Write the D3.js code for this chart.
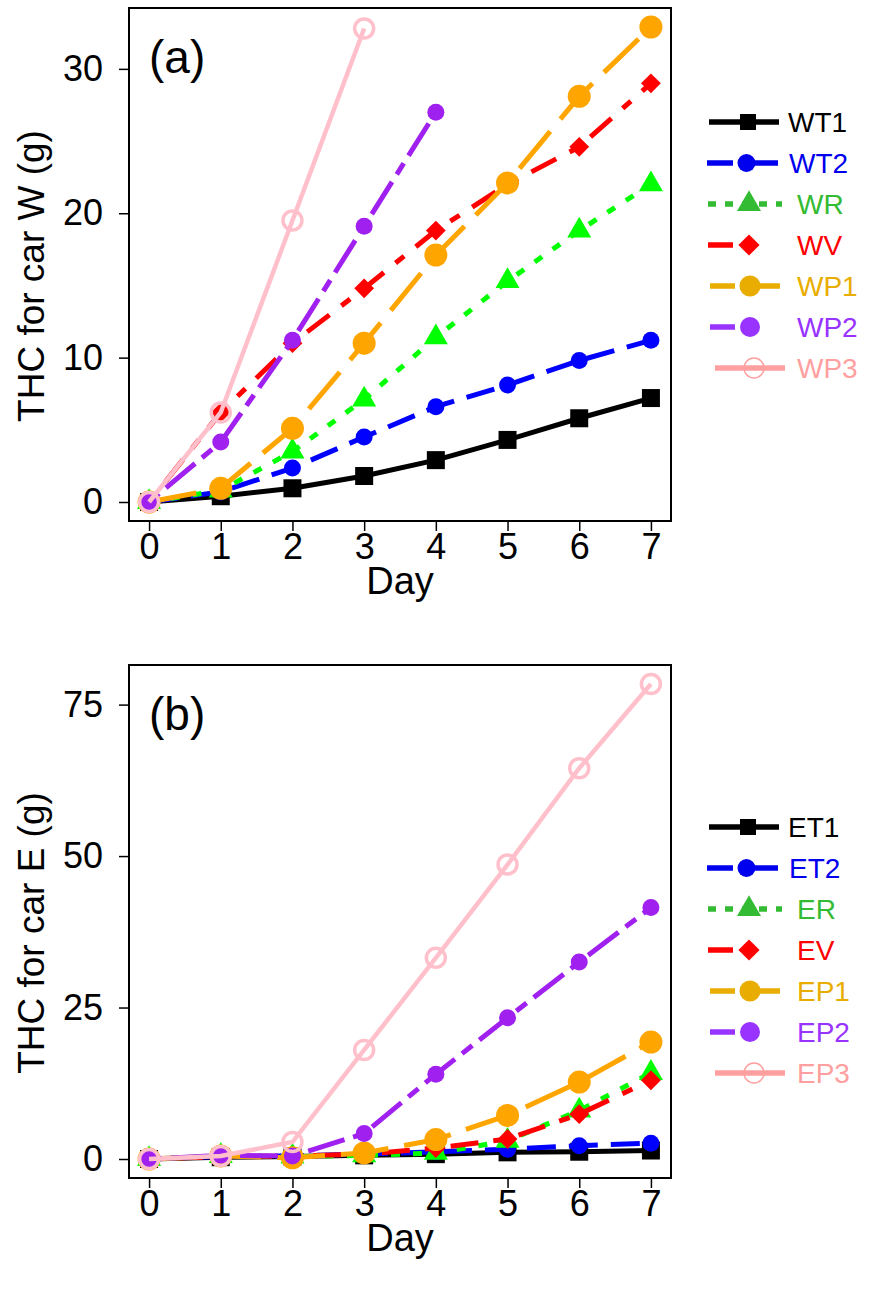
<!DOCTYPE html>
<html>
<head>
<meta charset="utf-8">
<script src="https://cdn.jsdelivr.net/npm/d3@7"></script>
<style>
body { margin: 0; background: #fff; }
svg { font-family: "Liberation Sans", Arial, Helvetica, sans-serif; }
</style>
</head>
<body>
<svg id="chart" width="869" height="1289"></svg>
<script>
// ---- data ----
var days = [0, 1, 2, 3, 4, 5, 6, 7];

// car W, THC (g)
var namesW = ["WT1", "WT2", "WR", "WV", "WP1", "WP2", "WP3"];
var WT1 = [0, 0.4, 0.95, 1.8, 2.9, 4.3, 5.8, 7.2];
var WT2 = [0, 0.7, 2.35, 4.5, 6.6, 8.1, 9.8, 11.2];
var WR  = [0, 0.8, 3.5, 7.1, 11.4, 15.3, 18.8, 22.0];
var WV  = [0, 6.2, 11.0, 14.8, 18.8, 22.0, 24.6, 29.0];
var WP1 = [0, 0.95, 5.1, 11.0, 17.1, 22.1, 28.1, 32.9];
var WP2 = [0, 4.15, 11.2, 19.1, 27.0];
var WP3 = [0, 6.2, 19.5, 32.8];

// car E, THC (g)
var namesE = ["ET1", "ET2", "ER", "EV", "EP1", "EP2", "EP3"];
var ET1 = [0, 0.3, 0.4, 0.6, 0.8, 1.1, 1.2, 1.4];
var ET2 = [0, 0.4, 0.5, 0.8, 1.2, 1.6, 2.2, 2.6];
var ER  = [0, 0.5, 0.4, 0.6, 1.0, 3.0, 8.0, 14.2];
var EV  = [0, 0.4, 0.5, 0.8, 1.8, 3.3, 7.4, 13.0];
var EP1 = [0, 0.5, 0.2, 1.0, 3.2, 7.2, 12.7, 19.3];
var EP2 = [0, 0.6, 0.5, 4.2, 14.0, 23.3, 32.5, 41.5];
var EP3 = [0, 0.5, 2.8, 18.0, 33.2, 48.6, 64.5, 78.4];

var xTicks = [0, 1, 2, 3, 4, 5, 6, 7];
var yTicksW = [0, 10, 20, 30];
var yTicksE = [0, 25, 50, 75];

// ---- styles (one per series position) ----
var styles = [
    { color: "#000000", legColor: "#000000", dash: null,          legDash: null,     shape: "square",   size: 18,   legSize: 16,  lx0: 709, lx1: 779, tx: 788 },
    { color: "#0000ff", legColor: "#0000ee", dash: "29,13",       legDash: "26,22",  shape: "circle",   size: 8.5,  legSize: 9,   lx0: 707, lx1: 778, tx: 789 },
    { color: "#00ff00", legColor: "#33bb33", dash: "9,13",        legDash: "8,9",    shape: "triangle", size: 24,   legSize: 24,  lx0: 708, lx1: 782, tx: 797 },
    { color: "#ff0000", legColor: "#ff0000", dash: "11,15,28,15", legDash: "25,300", shape: "diamond",  size: 14,   legSize: 15,  lx0: 708, lx1: 782, tx: 797 },
    { color: "#ffa500", legColor: "#e8ad00", dash: "48,16",       legDash: "25,20",  shape: "circle",   size: 11.5, legSize: 10.5, lx0: 710, lx1: 782, tx: 797 },
    { color: "#a020f0", legColor: "#9933ff", dash: "13,9,38,9",   legDash: "25,300", shape: "circle",   size: 8.5,  legSize: 10,  lx0: 710, lx1: 782, tx: 797 },
    { color: "#ffc0cb", legColor: "#ff9f9f", dash: null,          legDash: null,     shape: "ring",     size: 9.5,  legSize: 10,  lx0: 715, lx1: 785, tx: 797 }
];

var svg = d3.select("#chart");
var fontTick = 36, fontTitle = 37, fontLegend = 28;

var x = d3.scaleLinear().domain([-0.28, 7.28]).range([129, 671]);

function marker(sel, shape, s, c, px, py, thin) {
    var t = "translate(" + px + "," + py + ")";
    if (shape === "square") {
        sel.append("path").attr("d", d3.symbol(d3.symbolSquare, s * s)()).attr("transform", t).attr("fill", c);
    } else if (shape === "triangle") {
        sel.append("path").attr("d", d3.symbol(d3.symbolTriangle, 0.433 * s * s)()).attr("transform", t).attr("fill", c);
    } else if (shape === "diamond") {
        sel.append("path").attr("d", d3.symbol(d3.symbolSquare, s * s)()).attr("transform", t + "rotate(45)").attr("fill", c);
    } else if (shape === "circle") {
        sel.append("circle").attr("cx", px).attr("cy", py).attr("r", s).attr("fill", c);
    } else {
        sel.append("circle").attr("cx", px).attr("cy", py).attr("r", s)
            .attr("fill", "none").attr("stroke", c).attr("stroke-width", thin ? 1.5 : 3.5);
    }
}

function drawPanel(top, series, names, yTicks, label, ytitle, legendTop) {
    var bottom = top + 513;
    var hi = d3.max(series, function (s) { return d3.max(s); });
    var pad = 0.04 * hi;
    var y = d3.scaleLinear().domain([-pad, hi + pad]).range([bottom, top]);

    var g = svg.append("g");

    // series: line, then its markers
    var line = d3.line().x(function (d, i) { return x(days[i]); }).y(function (d) { return y(d); });
    series.forEach(function (vals, k) {
        var st = styles[k];
        g.append("path")
            .attr("d", line(vals))
            .attr("fill", "none")
            .attr("stroke", st.color)
            .attr("stroke-width", k === 6 ? 4.5 : 5)
            .attr("stroke-dasharray", st.dash);
        var mg = g.append("g");
        vals.forEach(function (v, i) {
            marker(mg, st.shape, st.size, st.color, x(days[i]), y(v), false);
        });
    });

    // box
    g.append("rect").attr("x", 129).attr("y", top).attr("width", 542).attr("height", 513)
        .attr("fill", "none").attr("stroke", "#000").attr("stroke-width", 2);

    // axes
    var ax = g.append("g").attr("transform", "translate(0," + bottom + ")")
        .call(d3.axisBottom(x).tickValues(xTicks).tickSize(10).tickPadding(2).tickFormat(d3.format("d")));
    var ay = g.append("g").attr("transform", "translate(129,0)")
        .call(d3.axisLeft(y).tickValues(yTicks).tickSize(10).tickPadding(16).tickFormat(d3.format("d")));
    [ax, ay].forEach(function (a) {
        a.select(".domain").remove();
        a.selectAll("line").attr("stroke", "#000").attr("stroke-width", 1.5);
        a.selectAll("text").attr("fill", "#000").style("font-size", fontTick + "px")
            .style("font-family", "'Liberation Sans', Arial, sans-serif");
    });

    // titles
    g.append("text").attr("x", 400).attr("y", bottom + 73).attr("text-anchor", "middle")
        .style("font-size", (fontTitle + 1) + "px").text("Day");
    g.append("text").attr("transform", "translate(44," + (top + 268) + ")rotate(-90)")
        .attr("text-anchor", "middle").style("font-size", fontTitle + "px").text(ytitle);
    g.append("text").attr("x", 149).attr("y", top + 65)
        .style("font-size", "46px").text(label);

    // legend
    var lg = svg.append("g");
    names.forEach(function (n, k) {
        var st = styles[k];
        var ly = legendTop + k * 41;
        lg.append("line").attr("x1", st.lx0).attr("x2", st.lx1).attr("y1", ly).attr("y2", ly)
            .attr("stroke", st.legColor).attr("stroke-width", 5.5)
            .attr("stroke-dasharray", st.legDash);
        marker(lg, st.shape, st.legSize, st.legColor, (st.lx0 + st.lx1) / 2 + 4, ly, true);
        lg.append("text").attr("x", st.tx).attr("y", ly + 10)
            .attr("fill", st.legColor).style("font-size", fontLegend + "px").text(n);
    });
}

drawPanel(8, [WT1, WT2, WR, WV, WP1, WP2, WP3], namesW, yTicksW, "(a)", "THC for car W (g)", 122);
drawPanel(665, [ET1, ET2, ER, EV, EP1, EP2, EP3], namesE, yTicksE, "(b)", "THC for car E (g)", 827);
</script>
</body>
</html>
